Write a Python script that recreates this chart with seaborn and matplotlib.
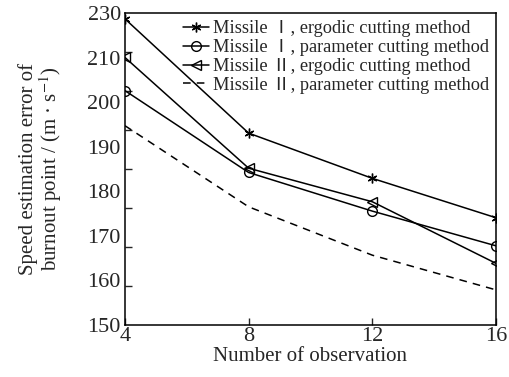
import numpy as np
import pandas as pd
import seaborn as sns
import matplotlib
matplotlib.use("Agg")
import matplotlib.pyplot as plt

observations = [4, 8, 12, 16]
missile1_ergodic = [228.5, 199.2, 187.6, 177.5]
missile1_parameter = [210.1, 189.1, 179.2, 170.3]
missile2_ergodic = [218.6, 190.2, 181.6, 165.8]
missile2_parameter = [201.1, 180.3, 167.9, 159.0]

series_names = [
    "Missile \u2160, ergodic cutting method",
    "Missile \u2160, parameter cutting method",
    "Missile \u2161, ergodic cutting method",
    "Missile \u2161, parameter cutting method",
]
ytick_labels = ["150", "160", "170", "180", "190", "200", "210", "230"]

sns.set_style("ticks")
plt.rcParams["font.family"] = ["Liberation Serif", "Noto Sans CJK SC", "DejaVu Sans"]
plt.rcParams["mathtext.fontset"] = "stix"

df = pd.DataFrame({
    "obs": observations * 4,
    "err": missile1_ergodic + missile1_parameter + missile2_ergodic + missile2_parameter,
    "series": sum([[n] * 4 for n in series_names], []),
})

fig = plt.figure(figsize=(5.10, 3.77), dpi=100)
ax = fig.add_axes([0.245, 0.138, 0.7275, 0.8275])

styles = [
    dict(marker=(6, 2, 0), markersize=7, linestyle="-"),
    dict(marker="o", markersize=7, fillstyle="none", linestyle="-"),
    dict(marker="<", markersize=7, fillstyle="none", linestyle="-"),
    dict(marker=None, linestyle=(0, (5, 4))),
]
for name, st in zip(series_names, styles):
    sub = df[df["series"] == name]
    sns.lineplot(data=sub, x="obs", y="err", ax=ax, color="black", lw=1.1,
                 label=name, markeredgewidth=1.0, markeredgecolor="black", **st)

ax.set_xlim(4, 16)
ax.set_ylim(150, 230)
ax.set_xticks(observations)
ax.set_xticklabels([str(v) for v in observations])
ax.tick_params(axis="x", direction="in", length=5, width=1, labelsize=16, pad=1.5)

# label positions spread evenly; marks every 10 units drawn as minor ticks
ax.set_yticks(np.linspace(150, 230, len(ytick_labels)))
ax.set_yticklabels(ytick_labels)
ax.set_yticks(np.arange(150, 231, 10), minor=True)
ax.tick_params(axis="y", which="major", length=0, labelsize=16, pad=3)
ax.tick_params(axis="y", which="minor", direction="in", length=5, width=1)

for sp in ax.spines.values():
    sp.set_linewidth(1.1)
    sp.set_color("black")

ax.set_xlabel("Number of observation", fontsize=15, labelpad=1)
ax.set_ylabel("Speed estimation error of\nburnout point / (m \u00b7 s$^{-1}$)",
              fontsize=15, linespacing=1.0)
ax.yaxis.set_label_coords(-0.163, 0.5)

leg = ax.legend(loc="upper right", frameon=False, fontsize=13.2,
                handlelength=1.4, handletextpad=0.2, labelspacing=0.1,
                borderaxespad=0.2, borderpad=0.2)

fig.savefig("out.png", dpi=100)
